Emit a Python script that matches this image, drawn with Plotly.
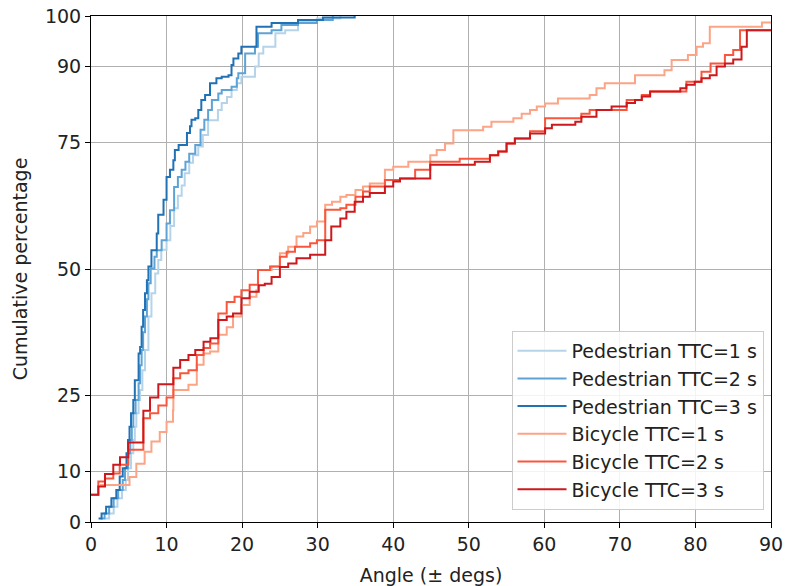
import plotly.graph_objects as go

# ---------------- data (angle in degrees, cumulative percentage) ----------------
ped1_angle = [1.9, 2.4, 3.0, 3.5, 4.1, 4.6, 4.9, 5.3, 5.6, 5.8, 6.0, 6.3, 6.5, 6.8, 7.15, 7.6, 8.0, 8.5, 8.9, 9.3,
              10.0, 10.5, 11.0, 11.5, 12.0, 12.4, 13.0, 13.5, 14.2, 14.8, 15.5, 16.8, 17.3, 18.0, 18.6, 19.3, 19.9,
              21.7, 22.2, 22.8, 24.4, 25.7, 27.4, 29.9, 33.0]
ped1_pct = [0.7, 1.7, 3.0, 4.7, 6.3, 8.3, 10.6, 13.6, 16.2, 18.8, 21.5, 24.1, 26.1, 30.0, 34.0, 40.6, 45.2, 49.1, 51.8, 53.8,
            55.7, 58.5, 62.0, 64.5, 66.5, 68.9, 71.0, 72.5, 74.2, 76.5, 79.4, 81.4, 82.8, 84.0, 85.4, 86.7, 88.0,
            90.0, 92.6, 93.9, 96.6, 97.2, 98.9, 99.5, 100.0]

ped2_angle = [1.3, 1.8, 2.4, 3.0, 3.6, 4.2, 4.5, 4.9, 5.2, 5.4, 5.6, 5.9, 6.3, 6.5, 6.7, 6.9, 7.15, 7.4, 7.6, 7.9,
              8.4, 8.7, 9.35, 10.0, 10.45, 11.0, 11.5, 12.0, 12.5, 13.0, 13.8, 14.5, 15.0, 15.5, 16.0, 16.85, 17.3,
              18.6, 19.3, 19.5, 20.4, 21.7, 22.1, 23.9, 25.2, 27.4, 29.9, 32.0]
ped2_pct = [0.7, 1.7, 3.0, 4.7, 6.3, 8.3, 10.6, 13.6, 16.2, 18.8, 21.5, 24.1, 27.4, 31.0, 34.0, 37.5, 40.6, 44.0, 47.2, 50.1,
            52.4, 53.7, 55.7, 59.0, 61.6, 66.2, 68.2, 69.6, 71.2, 72.8, 74.5, 77.5, 79.5, 81.4, 83.4, 84.7, 85.4,
            86.0, 87.7, 88.7, 92.6, 93.9, 96.6, 97.2, 98.2, 98.6, 99.2, 100.0]

ped3_angle = [1.0, 1.4, 2.0, 2.7, 3.35, 3.8, 4.2, 4.7, 4.9, 5.1, 5.3, 5.6, 5.8, 6.3, 6.5, 6.7, 6.9, 7.15, 7.4, 7.6,
              8.0, 8.7, 8.9, 9.6, 10.0, 10.45, 10.9, 11.1, 11.6, 12.7, 13.1, 13.3, 13.8, 14.2, 14.6, 15.1, 15.75,
              16.6, 17.3, 18.2, 18.6, 18.85, 19.5, 19.9, 21.9, 23.9, 27.4, 30.7, 34.9]
ped3_pct = [0.7, 1.7, 3.0, 4.7, 6.3, 9.0, 10.6, 13.6, 16.2, 18.8, 21.5, 24.1, 28.0, 33.3, 34.6, 38.6, 41.9, 45.2, 47.8, 50.5,
            53.7, 57.0, 60.7, 63.7, 68.2, 69.6, 71.5, 73.5, 74.5, 76.9, 78.2, 79.5, 79.8, 81.4, 83.4, 84.4, 86.7,
            87.7, 88.0, 88.3, 90.3, 91.6, 92.6, 93.9, 97.9, 98.6, 99.2, 99.7, 100.0]

bic1_angle = [1.2, 5.1, 6.0, 7.1, 8.0, 9.1, 10.0, 10.85, 10.9, 12.9, 14.0, 14.9, 15.76, 16.85, 17.96, 18.8, 19.9, 21.0,
              21.9, 22.1, 23.9, 25.0, 26.1, 27.2, 28.1, 29.0, 29.9, 31.0, 31.9, 33.0, 33.8, 35.0, 36.0, 36.9, 38.9,
              40.0, 42.0, 44.9, 45.75, 46.85, 47.96, 51.9, 53.0, 55.9, 57.0, 58.1, 59.0, 60.1, 61.8, 66.0, 66.9,
              68.0, 72.0, 75.9, 76.85, 79.0, 80.15, 81.0, 81.9, 88.8, 90.0]
bic1_pct = [7.3, 8.9, 11.5, 13.9, 15.9, 17.8, 19.8, 22.1, 26.1, 27.1, 31.1, 33.3, 33.7, 37.0, 38.5, 40.6, 42.9, 44.5,
            45.8, 49.8, 50.5, 53.1, 54.4, 56.4, 57.1, 58.4, 59.4, 62.7, 63.3, 64.3, 64.6, 65.6, 66.3, 66.9, 69.6,
            70.2, 71.2, 72.5, 73.5, 74.8, 77.4, 78.1, 79.1, 79.8, 80.7, 81.4, 82.1, 82.7, 83.7, 84.4, 85.7,
            86.7, 88.3, 89.3, 91.3, 92.3, 93.9, 94.6, 97.9, 98.7, 98.7]

bic2_angle = [0.0, 0.97, 1.85, 2.95, 3.8, 4.94, 6.93, 7.81, 8.91, 10.0, 10.9, 11.8, 12.9, 14.0, 14.9, 15.76, 16.85, 17.96,
              19.0, 19.9, 21.0, 22.1, 23.7, 25.0, 25.9, 27.0, 29.0, 29.9, 31.0, 33.0, 33.8, 35.0, 36.0, 36.9, 38.9,
              40.9, 42.9, 44.9, 48.8, 52.8, 53.9, 55.0, 56.1, 58.1, 60.1, 64.9, 66.0, 70.9, 72.9, 74.0, 78.8,
              80.8, 82.0, 83.9, 85.0, 85.9, 90.0]
bic2_pct = [5.4, 8.0, 8.6, 9.6, 11.3, 14.3, 20.5, 21.5, 23.0, 24.6, 28.4, 29.4, 30.0, 33.0, 34.4, 35.3, 41.2, 43.5,
            44.5, 45.8, 46.9, 49.8, 50.5, 52.4, 53.4, 54.4, 55.1, 55.7, 61.7, 62.0, 62.7, 64.3, 65.3, 66.3, 67.6,
            67.9, 69.6, 71.2, 71.8, 72.5, 73.2, 74.8, 75.8, 77.2, 79.8, 80.7, 81.4, 83.4, 84.4, 85.1, 87.0,
            89.0, 90.6, 92.3, 93.3, 97.2, 97.2]

bic3_angle = [0.0, 0.97, 1.85, 2.95, 3.84, 4.94, 6.93, 7.81, 8.91, 10.9, 11.8, 12.9, 13.8, 14.9, 15.8, 16.85, 17.96, 18.8,
              19.9, 21.0, 22.2, 23.0, 23.9, 25.0, 26.1, 27.2, 29.0, 31.0, 31.8, 33.0, 33.8, 34.9, 36.0, 36.9, 38.9,
              40.0, 40.9, 44.9, 50.8, 52.8, 53.9, 55.0, 56.1, 58.1, 60.1, 61.0, 64.1, 64.9, 66.9, 68.9, 70.9, 72.0,
              72.9, 74.0, 78.0, 78.8, 79.9, 80.8, 81.9, 82.8, 83.9, 85.0, 86.1, 86.8, 90.0]
bic3_pct = [5.4, 7.0, 9.5, 11.3, 12.8, 15.7, 22.0, 24.6, 27.2, 30.5, 32.0, 33.0, 34.0, 35.6, 36.3, 39.9, 40.6, 41.2,
            44.2, 45.5, 46.8, 47.1, 48.4, 50.4, 51.1, 52.1, 52.8, 55.7, 58.4, 60.0, 61.3, 63.3, 64.3, 65.0, 66.3,
            67.3, 67.9, 70.6, 71.2, 72.5, 73.2, 74.8, 75.8, 76.8, 77.8, 78.5, 79.1, 80.1, 81.4, 82.1, 82.8, 83.4,
            84.1, 85.1, 85.7, 86.4, 87.0, 87.7, 88.3, 90.0, 90.6, 91.4, 93.9, 97.2, 97.2]

series_names = ["Pedestrian TTC=1 s", "Pedestrian TTC=2 s", "Pedestrian TTC=3 s",
                "Bicycle TTC=1 s", "Bicycle TTC=2 s", "Bicycle TTC=3 s"]
series_colors = ["#b5d4e9", "#5da3d5", "#2171b5", "#fca486", "#f9573d", "#cd191d"]

x_ticks = [0, 10, 20, 30, 40, 50, 60, 70, 80, 90]
y_ticks = [0, 10, 25, 50, 75, 90, 100]
x_title = "Angle (± degs)"
y_title = "Cumulative percentage"

# ---------------- figure ----------------
series = [(ped1_angle, ped1_pct), (ped2_angle, ped2_pct), (ped3_angle, ped3_pct),
          (bic1_angle, bic1_pct), (bic2_angle, bic2_pct), (bic3_angle, bic3_pct)]

FONT = "DejaVu Sans"
FS = 19
fig = go.Figure()
for (xs, ys), name, col in zip(series, series_names, series_colors):
    fig.add_trace(go.Scatter(x=xs, y=ys, mode="lines", name=name,
                             line=dict(color=col, width=2, shape="hv")))

axis_common = dict(showline=True, mirror=True, linecolor="black", linewidth=1,
                   ticks="outside", ticklen=5, tickcolor="black", tickwidth=1,
                   showgrid=True, gridcolor="#b0b0b0", gridwidth=1, zeroline=False,
                   automargin=False, ticklabeloverflow="allow",
                   tickfont=dict(family=FONT, size=FS, color="#222"))

fig.update_layout(
    width=785, height=586,
    margin=dict(l=91, r=14, t=16, b=64),
    paper_bgcolor="white", plot_bgcolor="white",
    font=dict(family=FONT, size=FS, color="#222"),
    xaxis=dict(range=[0, 90], tickmode="array", tickvals=x_ticks,
               title=dict(text=x_title, font=dict(family=FONT, size=FS), standoff=14),
               **axis_common),
    yaxis=dict(range=[0, 100], tickmode="array", tickvals=y_ticks,
               title=dict(text=y_title, font=dict(family=FONT, size=FS), standoff=12),
               **axis_common),
    legend=dict(x=0.989, y=0.024, xanchor="right", yanchor="bottom", itemwidth=49,
                bgcolor="rgba(255,255,255,0.85)", bordercolor="#cccccc", borderwidth=1,
                font=dict(family=FONT, size=FS, color="#222"), tracegroupgap=0),
    showlegend=True,
)

# remove the browser's default 8 px page margin so the figure sits at the window's corner
fig.write_html("out.html", config={"displayModeBar": False},
               post_script="document.body.style.margin='0';")
